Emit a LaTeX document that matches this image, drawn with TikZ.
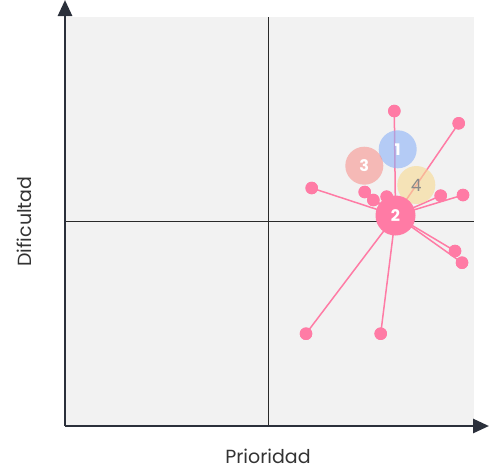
\documentclass[tikz,border=0pt]{standalone}
\usepackage{fontspec}
\setmainfont{Poppins}
\usetikzlibrary{arrows.meta}
\definecolor{bg}{HTML}{F2F2F2}
\definecolor{axis}{HTML}{2B303B}
\definecolor{mid}{HTML}{2A2A2A}
\definecolor{pk}{HTML}{FF7BA5}
\definecolor{cblue}{HTML}{8BB1F7}
\definecolor{cred}{HTML}{F7938F}
\definecolor{cyel}{HTML}{F7D991}
\definecolor{numgray}{HTML}{8A8A8A}
\tikzset{
  axisline/.style={draw=axis,line width=2.8pt,-{Triangle[length=16pt,width=14pt]}},
  midline/.style={draw=mid,line width=1.9pt},
  dot/.style={circle,fill=pk,inner sep=0pt,minimum size=12.5pt},
  link/.style={draw=pk,line width=1.5pt},
  bubble/.style={circle,inner sep=0pt,minimum size=38pt,fill opacity=0.6,text opacity=1,font=\fontsize{16}{16}\selectfont\bfseries,text=white},
  axlabel/.style={font=\fontsize{19}{19}\selectfont,text=black!80}
}
\begin{document}
\begin{tikzpicture}[x=1pt,y=-1pt]
\useasboundingbox (0,0) rectangle (489,472);
\fill[bg] (65,17) rectangle (474,426);
\coordinate (o) at (65,426);
\coordinate (ytip) at (65,0);
\coordinate (xtip) at (489,426);
\coordinate (vt) at (268.5,17);
\coordinate (vb) at (268.5,426);
\coordinate (hl) at (65,221.5);
\coordinate (hr) at (474,221.5);
\draw[midline] (vt) -- (vb);
\draw[midline] (hl) -- (hr);
\draw[axisline] (o) -- (ytip);
\draw[axisline] (o) -- (xtip);
\node[axlabel] (xl) at (268,456.5) {Prioridad};
\node[axlabel,rotate=90] (yl) at (24,221.5) {Dificultad};
% center bubble position
\coordinate (c2c) at (395.5,215.5);
% dots
\node[dot] (d1) at (394.3,111) {};
\node[dot] (d2) at (458.7,123.3) {};
\node[dot] (d3) at (311.7,188) {};
\node[dot] (d4) at (364.7,192) {};
\node[dot] (d5) at (373.3,200) {};
\node[dot] (d6) at (386.7,196.7) {};
\node[dot] (d7) at (440.7,195.7) {};
\node[dot] (d8) at (463,195) {};
\node[dot] (d9) at (455,251) {};
\node[dot] (d10) at (462,262.7) {};
\node[dot] (d11) at (306,333.7) {};
\node[dot] (d12) at (380.7,333.7) {};
\foreach \d in {d1,d2,d3,d4,d5,d6,d7,d8,d9,d10,d11,d12}
  \draw[link] (c2c) -- (\d.center);
\foreach \d in {d1,d2,d3,d4,d5,d6,d7,d8,d9,d10,d11,d12}
  \fill[pk] (\d) circle (6.25pt);
% bubbles
\node[bubble,fill=cblue] (c1) at (397.7,149.3) {1};
\node[bubble,fill=cred] (c3) at (364.3,165.7) {3};
\node[bubble,fill=cyel,text=numgray,font=\fontsize{17}{17}\selectfont] (c4) at (416.3,185) {4};
\node[circle,fill=pk,inner sep=0pt,minimum size=40pt,text=white,font=\fontsize{16}{16}\selectfont\bfseries] (c2) at (c2c) {2};
\end{tikzpicture}
\end{document}
